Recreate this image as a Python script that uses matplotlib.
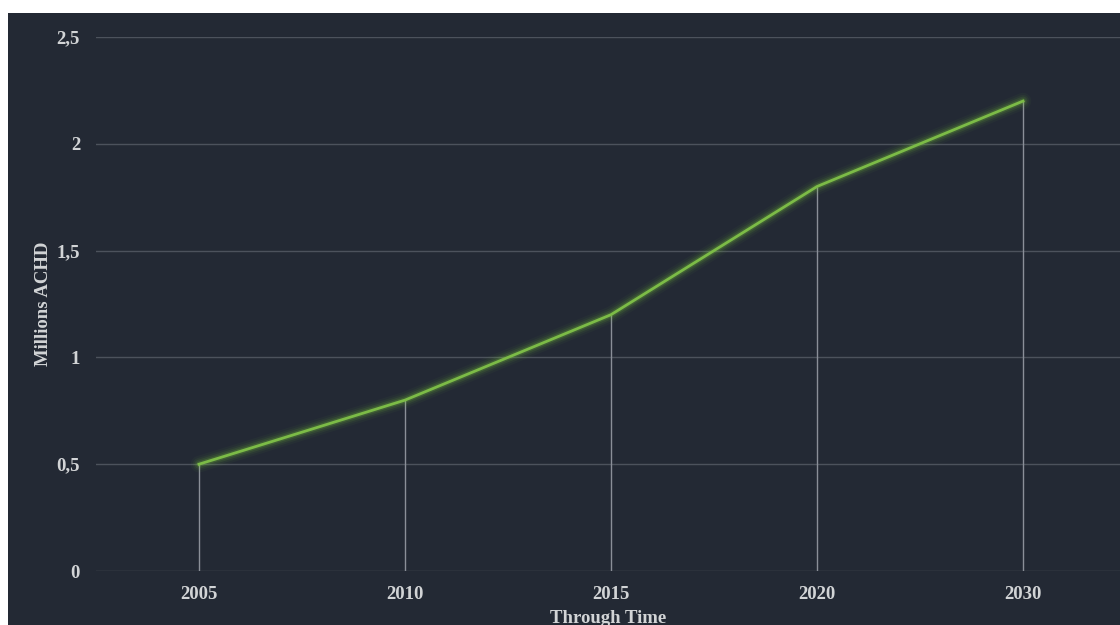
import matplotlib.pyplot as plt
from matplotlib.patches import Rectangle

# data
years = ['2005', '2010', '2015', '2020', '2030']
values = [0.5, 0.8, 1.2, 1.8, 2.2]
yticks = [0, 0.5, 1, 1.5, 2, 2.5]
ytick_labels = ['0', '0,5', '1', '1,5', '2', '2,5']

bg = '#232934'
txt = '#d2d4d6'
green = '#7cbb47'

plt.rcParams['font.family'] = ['Liberation Serif', 'DejaVu Serif']
plt.rcParams['font.weight'] = 'bold'

fig = plt.figure(figsize=(11.2, 6.25), dpi=100, facecolor='white')
# dark panel (white strip at top and left like the reference)
fig.patches.append(Rectangle((8 / 1120, 0), 1, 612 / 625, transform=fig.transFigure,
                             facecolor=bg, edgecolor='none', zorder=-10))

ax = fig.add_axes([96 / 1120, 54 / 625, 1030 / 1120, 534 / 625])
ax.patch.set_alpha(0)

xs = list(range(len(years)))
ax.set_xlim(-0.5, len(years) - 0.5)
ax.set_ylim(0, 2.5)

# horizontal grid
for t in yticks:
    ax.axhline(t, color='#4c525c', lw=1, zorder=1)

# drop lines
ax.vlines(xs, 0, values, color='#8a8f98', lw=1, zorder=2)

# glow
for w, a in [(12, 0.04), (9, 0.06), (6.5, 0.1), (4, 0.18)]:
    ax.plot(xs, values, color='#7fd03a', lw=w, alpha=a, solid_capstyle='round', zorder=3)
ax.plot(xs, values, color=green, lw=2, zorder=4)

ax.set_xticks(xs)
ax.set_xticklabels(years)
ax.set_yticks(yticks)
ax.set_yticklabels(ytick_labels)
ax.tick_params(length=0, colors=txt, labelsize=13.5)
ax.tick_params(axis='x', pad=10.5)
ax.tick_params(axis='y', pad=11.5)
for s in ax.spines.values():
    s.set_visible(False)

ax.set_xlabel('Through Time', color=txt, fontsize=13.5, fontweight='bold')
ax.xaxis.set_label_coords(512 / 1030, -39 / 534)
ax.set_ylabel('Millions ACHD', color=txt, fontsize=13.5, fontweight='bold')
ax.yaxis.set_label_coords(-44 / 1030, 0.5)

fig.savefig('out.png', dpi=100, facecolor='white')
